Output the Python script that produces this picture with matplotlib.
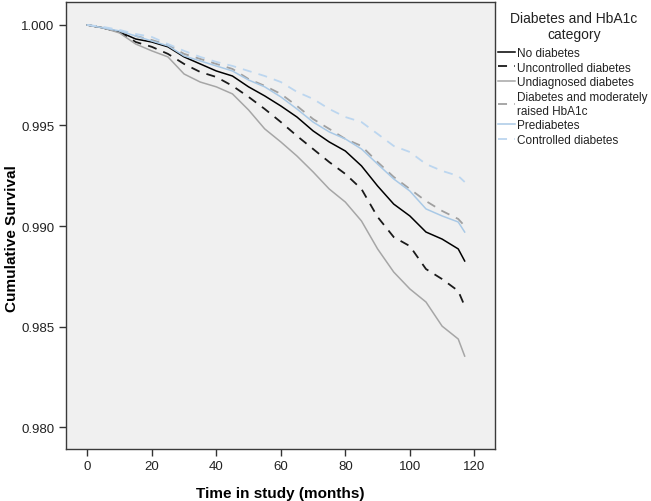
import matplotlib
matplotlib.use("Agg")
import matplotlib.pyplot as plt
from matplotlib.ticker import FormatStrFormatter

plt.rcParams['font.family'] = ['Liberation Sans', 'DejaVu Sans']

months = [0, 5, 10, 15, 20, 25, 30, 35, 40, 45, 50, 55, 60, 65, 70, 75,
          80, 85, 90, 95, 100, 105, 110, 115, 117]

no_diabetes = [1.00000, 0.99985, 0.99965, 0.99930, 0.99915, 0.99891, 0.99841,
               0.99806, 0.99771, 0.99746, 0.99692, 0.99647, 0.99597, 0.99542,
               0.99473, 0.99418, 0.99373, 0.99299, 0.99199, 0.99109, 0.99050,
               0.98970, 0.98935, 0.98886, 0.98826]
uncontrolled = [1.00000, 0.99985, 0.99965, 0.99915, 0.99891, 0.99856, 0.99806,
                0.99766, 0.99741, 0.99697, 0.99642, 0.99582, 0.99517, 0.99448,
                0.99383, 0.99318, 0.99259, 0.99184, 0.99045, 0.98945, 0.98900,
                0.98786, 0.98736, 0.98677, 0.98602]
undiagnosed = [1.00000, 0.99985, 0.99960, 0.99905, 0.99871, 0.99841, 0.99756,
               0.99716, 0.99692, 0.99657, 0.99577, 0.99483, 0.99418, 0.99348,
               0.99269, 0.99184, 0.99119, 0.99025, 0.98886, 0.98771, 0.98687,
               0.98622, 0.98502, 0.98438, 0.98353]
moderately_raised = [1.00000, 0.99985, 0.99970, 0.99945, 0.99925, 0.99900, 0.99856,
                     0.99831, 0.99806, 0.99781, 0.99731, 0.99697, 0.99657, 0.99597,
                     0.99532, 0.99483, 0.99433, 0.99398, 0.99318, 0.99244, 0.99184,
                     0.99124, 0.99075, 0.99035, 0.99000]
prediabetes = [1.00000, 0.99985, 0.99970, 0.99945, 0.99920, 0.99896, 0.99846,
               0.99821, 0.99796, 0.99771, 0.99726, 0.99692, 0.99642, 0.99582,
               0.99517, 0.99468, 0.99433, 0.99383, 0.99308, 0.99234, 0.99174,
               0.99085, 0.99050, 0.99020, 0.98970]
controlled = [1.00000, 0.99990, 0.99975, 0.99955, 0.99940, 0.99905, 0.99871,
              0.99841, 0.99816, 0.99796, 0.99771, 0.99746, 0.99716, 0.99667,
              0.99632, 0.99582, 0.99542, 0.99517, 0.99458, 0.99398, 0.99368,
              0.99308, 0.99274, 0.99249, 0.99219]

x_ticks = [0, 20, 40, 60, 80, 100, 120]
y_ticks = [0.980, 0.985, 0.990, 0.995, 1.000]

series = [
    ("No diabetes", no_diabetes, "#000000", "-", 1.1),
    ("Uncontrolled diabetes", uncontrolled, "#1a1a1a", (0, (5, 4)), 1.3),
    ("Undiagnosed diabetes", undiagnosed, "#a6a6a6", "-", 1.1),
    ("Diabetes and moderately\nraised HbA1c", moderately_raised, "#a0a0a0", (0, (5, 4)), 1.3),
    ("Prediabetes", prediabetes, "#a9c9e6", "-", 1.1),
    ("Controlled diabetes", controlled, "#bcd6ef", (0, (5, 4)), 1.3),
]

W, H = 651, 502
fig = plt.figure(figsize=(W / 100, H / 100), dpi=100)
ax = fig.add_axes([65.7 / W, 1 - 450 / H, (495 - 65.7) / W, (450 - 3) / H])
ax.set_facecolor("#f0f0f0")

for label, vals, color, ls, lw in series:
    ax.plot(months, vals, color=color, linestyle=ls, linewidth=lw, label=label)

ax.set_xlim(-6.7, 126.4)
ax.set_ylim(0.97891, 1.00114)
ax.set_xticks(x_ticks)
ax.set_yticks(y_ticks)
ax.yaxis.set_major_formatter(FormatStrFormatter("%.3f"))
ax.tick_params(axis="both", direction="out", length=5, width=1, color="#333333",
               labelsize=9.5, labelcolor="#222222", pad=3)
for sp in ax.spines.values():
    sp.set_color("#3a3a3a")
    sp.set_linewidth(1.0)

ax.set_xlabel("Time in study (months)", fontsize=11, fontweight="bold", labelpad=10)
fig.text(12 / W, 1 - 239 / H, "Cumulative Survival", fontsize=11, fontweight="bold",
         rotation=90, ha="center", va="center")

fig.text(574 / W, 1 - 27 / H, "Diabetes and HbA1c\ncategory", fontsize=10,
         ha="center", va="center", multialignment="center", color="#222222",
         linespacing=1.15)

leg = ax.legend(loc="upper left", bbox_to_anchor=(498 / W, 1 - 48 / H),
                bbox_transform=fig.transFigure, frameon=False,
                fontsize=8.5, handlelength=1.4, handletextpad=0.25, borderaxespad=0.0,
                labelspacing=0.22, borderpad=0.0)
for t in leg.get_texts():
    t.set_color("#222222")

fig.savefig("out.png", dpi=100)
